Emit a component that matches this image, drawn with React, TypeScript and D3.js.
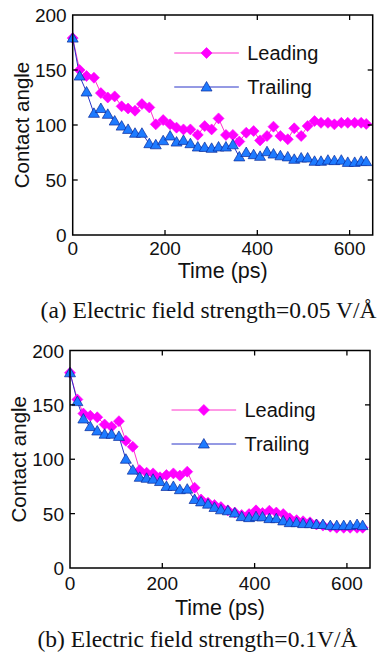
import React from "react";
import * as d3 from "d3";

// panel (a): 0.05 V/Å
const timesA = [0, 15, 30, 46, 61, 76, 91, 106, 120, 135, 150, 166, 180, 196, 211, 225, 240, 255, 271, 286, 301, 316, 332, 347, 361, 376, 392, 406, 421, 435, 450, 466, 480, 495, 509, 524, 538, 553, 567, 582, 596, 611, 625, 636];
const leadingA = [179, 150, 144.5, 143, 129, 125, 126, 117, 115, 113, 119, 116, 100.6, 104.5, 100.6, 97.6, 96, 96, 91, 99, 96, 106, 91, 91, 85, 93, 94.5, 86, 90, 98.5, 90, 87, 97, 90, 99, 103.6, 102, 102, 100.6, 102, 102, 102, 102, 101];
const trailingA = [179, 144.5, 130, 110.6, 115, 109.7, 103.6, 99, 96, 92.5, 92.5, 83, 82, 85.7, 90, 84.5, 86, 83, 80, 79.6, 78.8, 80, 80, 82, 71, 75, 73, 71.5, 75.7, 73.6, 72, 71, 68.8, 70, 70, 67, 67, 68, 67.6, 68, 66, 66, 67, 66.7];

// panel (b): 0.1 V/Å
const timesB = [0, 16, 29, 44, 59, 75, 90, 106, 121, 136, 151, 166, 180, 195, 209, 224, 238, 254, 270, 284, 299, 313, 327, 342, 357, 372, 388, 403, 417, 432, 447, 462, 476, 491, 505, 520, 534, 548, 564, 578, 593, 607, 622, 634];
const leadingB = [179.5, 155, 142, 140, 138.6, 132, 130, 135, 117, 111.5, 90, 87.6, 87, 83.4, 85.5, 87, 85, 88.6, 73.8, 63, 60, 58, 56, 53, 51, 48.7, 49.6, 53, 50.6, 52.7, 51, 49.6, 45.7, 44, 43, 42, 40, 39, 38, 37, 37, 37, 37, 37];
const trailingB = [179.5, 153, 137, 130, 126, 123, 123, 121, 100, 90, 83.4, 82.5, 81.6, 79.5, 75, 75, 72, 72.5, 63, 60.8, 58.7, 55.7, 53.5, 52.6, 50.5, 47.2, 46.3, 47.2, 47, 45.4, 45.4, 43.3, 41.7, 41.7, 40.8, 40.8, 40, 40, 39, 39, 39, 39, 40, 39];

const xTicks = [0, 200, 400, 600];
const yTicks = [0, 50, 100, 150, 200];
const seriesNames = ["Leading", "Trailing"];

const SANS = "'Liberation Sans', Arial, sans-serif";
const SERIF = "'Liberation Serif', 'Times New Roman', serif";

const PINK = "#ff00ff";
const PINK_LINE = "#ff33cc";
const BLUE_FILL = "#1e7bff";
const BLUE_EDGE = "#0a2a9a";
const BLUE_LINE = "#2a35c8";

const diamond = "M0,-5.5L5.5,0L0,5.5L-5.5,0Z";
const triangle = "M0,-5.5L5.5,4L-5.5,4Z";

type PanelProps = {
  left: number; right: number; top: number; bottom: number;
  times: number[]; leading: number[]; trailing: number[];
  legendY: number; tickGap: number; titleGap: number;
  caption: string; captionY: number; captionX: number;
};

function Panel(p: PanelProps) {
  const x = d3.scaleLinear().domain([0, 650]).range([p.left, p.right]);
  const y = d3.scaleLinear().domain([0, 200]).range([p.bottom, p.top]);
  const line = d3.line<number>().x((_, i) => x(p.times[i])).y(d => y(d));
  const tick = 5;

  return (
    <g>
      <path d={line(p.leading) || ""} fill="none" stroke={PINK_LINE} strokeWidth={1} />
      <path d={line(p.trailing) || ""} fill="none" stroke={BLUE_LINE} strokeWidth={1} />
      {p.leading.map((v, i) => (
        <path key={"l" + i} d={diamond} transform={`translate(${x(p.times[i])},${y(v)})`} fill={PINK} stroke={PINK} strokeWidth={0.6} />
      ))}
      {p.trailing.map((v, i) => (
        <path key={"t" + i} d={triangle} transform={`translate(${x(p.times[i])},${y(v)})`} fill={BLUE_FILL} stroke={BLUE_EDGE} strokeWidth={0.7} />
      ))}

      {/* frame + inward ticks */}
      <rect x={p.left} y={p.top} width={p.right - p.left} height={p.bottom - p.top} fill="none" stroke="#000" strokeWidth={1.5} />
      {xTicks.slice(1).map(t => (
        <g key={"xt" + t}>
          <line x1={x(t)} x2={x(t)} y1={p.bottom} y2={p.bottom - tick} stroke="#000" strokeWidth={1.3} />
          <line x1={x(t)} x2={x(t)} y1={p.top} y2={p.top + tick} stroke="#000" strokeWidth={1.3} />
        </g>
      ))}
      {yTicks.slice(1, -1).map(t => (
        <g key={"yt" + t}>
          <line x1={p.left} x2={p.left + tick} y1={y(t)} y2={y(t)} stroke="#000" strokeWidth={1.3} />
          <line x1={p.right} x2={p.right - tick} y1={y(t)} y2={y(t)} stroke="#000" strokeWidth={1.3} />
        </g>
      ))}
      {xTicks.map(t => (
        <text key={"xl" + t} x={x(t)} y={p.bottom + p.tickGap} textAnchor="middle" fontFamily={SANS} fontSize={19} fill="#111">{t}</text>
      ))}
      {yTicks.map(t => (
        <text key={"yl" + t} x={p.left - 6} y={y(t) + 7} textAnchor="end" fontFamily={SANS} fontSize={19} fill="#111">{t}</text>
      ))}
      <text x={(p.left + p.right) / 2} y={p.bottom + p.titleGap} textAnchor="middle" fontFamily={SANS} fontSize={21.5} fill="#111">Time (ps)</text>
      <text transform={`translate(${p.left - 44},${(p.top + p.bottom) / 2}) rotate(-90)`} textAnchor="middle" fontFamily={SANS} fontSize={20.5} fill="#111">Contact angle</text>

      {/* legend */}
      {seriesNames.map((name, i) => {
        const ly = p.legendY + i * 34;
        const lead = i === 0;
        return (
          <g key={name}>
            <line x1={x(220)} x2={x(360)} y1={ly} y2={ly} stroke={lead ? PINK_LINE : BLUE_LINE} strokeWidth={1} />
            <path d={lead ? diamond : triangle} transform={`translate(${x(290)},${ly})`} fill={lead ? PINK : BLUE_FILL} stroke={lead ? PINK : BLUE_EDGE} strokeWidth={0.7} />
            <text x={x(378)} y={ly + 7} fontFamily={SANS} fontSize={20} fill="#111">{name}</text>
          </g>
        );
      })}

      <text x={p.captionX} y={p.captionY} textAnchor="middle" fontFamily={SERIF} fontSize={23.5} fill="#111">{p.caption}</text>
    </g>
  );
}

export default function App() {
  return (
    <svg width={378} height={654} style={{ position: "absolute", left: 0, top: 0, background: "#fff" }}>
      <Panel left={72.7} right={372.7} top={15} bottom={235}
        times={timesA} leading={leadingA} trailing={trailingA}
        legendY={53} tickGap={20} titleGap={43}
        caption="(a) Electric field strength=0.05 V/Å" captionY={318} captionX={208.5} />
      <Panel left={70} right={370} top={350.5} bottom={568}
        times={timesB} leading={leadingB} trailing={trailingB}
        legendY={410} tickGap={22} titleGap={47}
        caption="(b) Electric field strength=0.1V/Å" captionY={647} captionX={197.5} />
    </svg>
  );
}
